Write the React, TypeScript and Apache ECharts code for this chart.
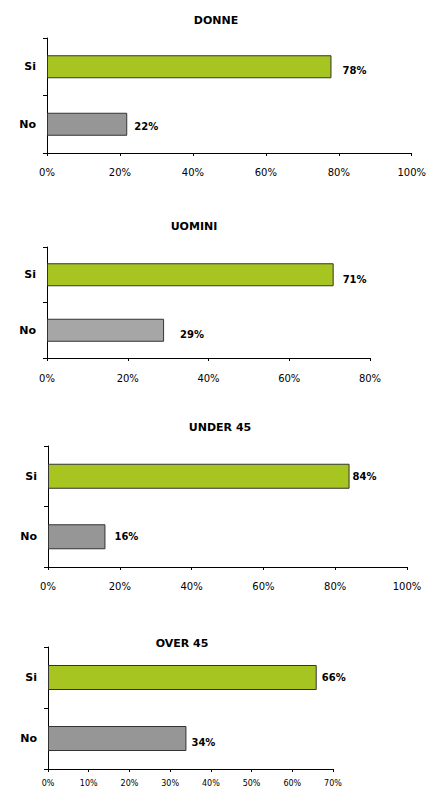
import React, { useEffect, useRef } from "react";
import * as echarts from "echarts";

const categories = ["No", "Si"];
const titles = ["DONNE", "UOMINI", "UNDER 45", "OVER 45"];
const donne = [22, 78];
const uomini = [29, 71];
const under45 = [16, 84];
const over45 = [34, 66];
const seriesValues = [donne, uomini, under45, over45];
const axisMax = [100, 80, 100, 70];
const axisInterval = [20, 20, 20, 10];

// layout / style (not data)
const grids = [
  { left: 47, top: 38, width: 366, height: 115 },
  { left: 47, top: 247, width: 323, height: 111 },
  { left: 48, top: 446, width: 359, height: 121 },
  { left: 48, top: 647, width: 285, height: 122 },
];
const titlePos = [
  [216, 20],
  [194, 226],
  [220, 427],
  [182, 643],
];
const barWidths = [23, 23, 25, 25];
const noColors = ["#969696", "#a6a6a6", "#969696", "#969696"];
const siColor = "#a7c520";
// [distance, dy] for [No, Si]
const labelTweaks = [
  [[7, 2], [11, 4]],
  [[16, 4], [9, 5]],
  [[9, 0], [3, 0]],
  [[5, 4], [5, 0]],
];
const tickFont = [10, 10, 10, 8];
const tickMargin = [14, 15, 14, 10];

export default function App() {
  const ref = useRef<HTMLDivElement>(null);
  useEffect(() => {
    if (!ref.current) return;
    const chart = echarts.init(ref.current, null, { renderer: "svg" });
    const font = "DejaVu Sans";
    const option: any = {
      animation: false,
      backgroundColor: "#ffffff",
      grid: grids.map((g) => ({ ...g, containLabel: false })),
      xAxis: grids.map((_, i) => ({
        type: "value",
        gridIndex: i,
        min: 0,
        max: axisMax[i],
        interval: axisInterval[i],
        axisLine: { show: true, lineStyle: { color: "#000", width: 1 } },
        axisTick: { show: true, length: 3, lineStyle: { color: "#000" } },
        splitLine: { show: false },
        axisLabel: {
          formatter: "{value}%",
          color: "#000",
          fontFamily: font,
          fontSize: tickFont[i],
          margin: tickMargin[i],
        },
      })),
      yAxis: grids.map((_, i) => ({
        type: "category",
        gridIndex: i,
        data: categories,
        axisLine: { show: true, lineStyle: { color: "#000", width: 1 } },
        axisTick: { show: true, length: 4, lineStyle: { color: "#000" } },
        axisLabel: {
          color: "#000",
          fontFamily: font,
          fontWeight: "bold",
          fontSize: 11,
          margin: 11,
        },
      })),
      series: seriesValues.map((vals, i) => ({
        type: "bar",
        xAxisIndex: i,
        yAxisIndex: i,
        barWidth: barWidths[i],
        data: vals.map((v, j) => ({
          value: v,
          itemStyle: {
            color: j === 1 ? siColor : noColors[i],
            borderColor: "#333",
            borderWidth: 1,
          },
          label: {
            show: true,
            position: "right",
            distance: labelTweaks[i][j][0],
            offset: [0, labelTweaks[i][j][1]],
            formatter: "{c}%",
            color: "#000",
            fontFamily: font,
            fontWeight: "bold",
            fontSize: 10,
          },
        })),
      })),
      graphic: titles.map((t, i) => ({
        type: "text",
        x: titlePos[i][0],
        y: titlePos[i][1],
        style: {
          text: t,
          align: "center",
          verticalAlign: "middle",
          fill: "#000",
          font: `bold 11px "${font}"`,
        },
      })),
    };
    chart.setOption(option);
    return () => chart.dispose();
  }, []);
  return (
    <div
      ref={ref}
      style={{ position: "absolute", left: 0, top: 0, width: 429, height: 788 }}
    />
  );
}
